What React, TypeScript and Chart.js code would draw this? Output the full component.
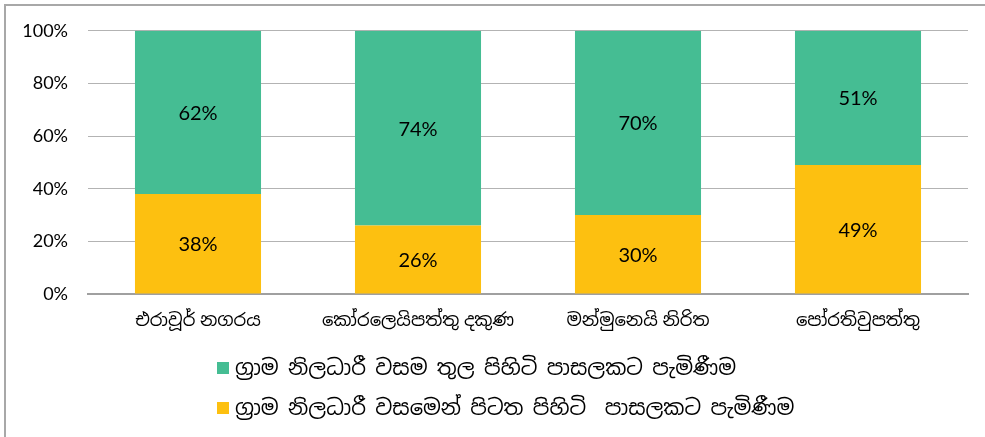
import React, { useEffect, useRef } from "react";
import { Chart, registerables } from "chart.js";

Chart.register(...registerables);

const categories = [
  "එරාවූර් නගරය",
  "කෝරලෙයිපත්තු දකුණ",
  "මන්මුනෙයි නිරිත",
  "පෝරතිවුපත්තු",
];
const insideLabel = "ග්‍රාම නිලධාරී වසම තුල පිහිටි පාසලකට පැමිණීම";
const outsideLabel = "ග්‍රාම නිලධාරී වසමෙන් පිටත පිහිටි  පාසලකට පැමිණීම";
const insideValues = [62, 74, 70, 51];
const outsideValues = [38, 26, 30, 49];
const yTicks = [0, 20, 40, 60, 80, 100];

const GREEN = "#45BD93";
const YELLOW = "#FDC010";
const FONT = "Lato, 'Noto Sans', 'Noto Sans Sinhala', sans-serif";

const dataLabelPlugin = {
  id: "dataLabels",
  afterDatasetsDraw(chart: any) {
    const ctx = chart.ctx;
    ctx.save();
    ctx.fillStyle = "#000";
    ctx.font = `20px ${FONT}`;
    ctx.textAlign = "center";
    ctx.textBaseline = "middle";
    chart.data.datasets.forEach((ds: any, i: number) => {
      const meta = chart.getDatasetMeta(i);
      meta.data.forEach((bar: any, j: number) => {
        const y = (bar.y + bar.base) / 2 + 1;
        ctx.fillText(ds.data[j] + "%", bar.x, y);
      });
    });
    ctx.restore();
  },
};

const legendPlugin = {
  id: "customLegend",
  afterDraw(chart: any) {
    const ctx = chart.ctx;
    ctx.save();
    const items = [...chart.data.datasets].reverse();
    const x0 = 217;
    const rowY = [368, 408];
    ctx.font = `21px ${FONT}`;
    ctx.textBaseline = "middle";
    ctx.textAlign = "left";
    try {
      (ctx as any).wordSpacing = "4px";
    } catch (e) {}
    items.forEach((ds: any, i: number) => {
      const y = rowY[i];
      ctx.fillStyle = ds.backgroundColor;
      ctx.fillRect(x0, y - 6, 12, 12);
      ctx.fillStyle = "#000";
      ctx.fillText(ds.label, x0 + 18, y);
    });
    ctx.restore();
  },
};

export default function App() {
  const ref = useRef<HTMLCanvasElement>(null);
  useEffect(() => {
    if (!ref.current) return;
    const chart = new Chart(ref.current, {
      type: "bar",
      data: {
        labels: categories,
        datasets: [
          {
            label: outsideLabel,
            data: outsideValues,
            backgroundColor: YELLOW,
            categoryPercentage: 1,
            barPercentage: 0.573,
          },
          {
            label: insideLabel,
            data: insideValues,
            backgroundColor: GREEN,
            categoryPercentage: 1,
            barPercentage: 0.573,
          },
        ],
      },
      options: {
        animation: false,
        responsive: false,
        layout: { padding: { left: 0, right: 17, top: 22, bottom: 100 } },
        plugins: {
          legend: { display: false },
          tooltip: { enabled: false },
        },
        scales: {
          x: {
            stacked: true,
            grid: { display: false, drawTicks: false },
            border: { display: true, color: "#a0a0a0", width: 2 },
            ticks: { color: "#000", font: { family: FONT, size: 18 }, padding: 15 },
            afterFit: (s: any) => {
              s.height = 43;
            },
          },
          y: {
            stacked: true,
            min: 0,
            max: 100,
            afterBuildTicks: (s: any) => {
              s.ticks = yTicks.map((v) => ({ value: v }));
            },
            grid: { color: "#b3b3b3", lineWidth: 1, drawTicks: false },
            border: { display: false },
            ticks: {
              color: "#000",
              font: { family: FONT, size: 18 },
              padding: 20,
              callback: (v: any) => v + "%",
            },
            afterFit: (s: any) => {
              s.width = 88;
            },
          },
        },
      },
      plugins: [dataLabelPlugin, legendPlugin],
    });
    return () => chart.destroy();
  }, []);
  return (
    <>
      <canvas
        ref={ref}
        width={985}
        height={437}
        style={{ position: "fixed", left: 0, top: 0, width: 985, height: 437, background: "#fff" }}
      />
      <div
        style={{
          position: "fixed",
          left: 4,
          top: 4,
          width: 1100,
          height: 600,
          border: "2px solid #a8a8a8",
          pointerEvents: "none",
        }}
      />
    </>
  );
}
